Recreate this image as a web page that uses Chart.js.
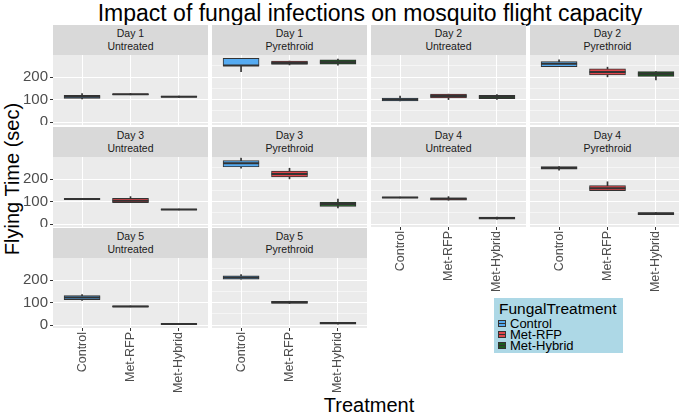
<!DOCTYPE html>
<html>
<head>
<meta charset="utf-8">
<script src="https://cdn.jsdelivr.net/npm/chart.js@4.4.0/dist/chart.umd.min.js"></script>
<style>
  body { margin: 0; background: #fff; font-family: 'Liberation Sans', Arial, sans-serif; }
  #wrap { position: relative; width: 679px; height: 416px; overflow: hidden; }
  #wrap canvas { position: absolute; }
  .strip { position: absolute; background: #d9d9d9; color: #1a1a1a; font-size: 10.5px; line-height: 13px; text-align: center; box-sizing: border-box; padding-top: 2px; }
  .title { position: absolute; color: #000; white-space: nowrap; }
  #legend { position: absolute; left: 494px; top: 298px; width: 129px; height: 55px; background: #add8e6; z-index: 5; }
  #legend .lt { position: absolute; left: 5px; top: 2px; font-size: 15.5px; line-height: 17px; }
  #legend .li { position: absolute; left: 16px; font-size: 13px; line-height: 11px; }
  #legend .key { position: absolute; left: 4px; width: 8px; height: 7px; border: 1px solid #333; box-sizing: border-box; }
  #legend .key::after { content: ''; position: absolute; left: 0; right: 0; top: 2px; height: 1px; background: #333; }
</style>
</head>
<body>
<div id="wrap">
  <div class="title" style="left:0;width:740px;top:2px;text-align:center;font-size:23px;line-height:23px;">Impact of fungal infections on mosquito flight capacity</div>
  <div class="title" style="left:0;width:738px;top:395px;text-align:center;font-size:20px;line-height:20px;">Treatment</div>
  <div class="title" style="left:-80px;top:169px;width:184px;text-align:center;font-size:20px;line-height:20px;transform:rotate(-90deg);">Flying Time (sec)</div>
  <div id="legend">
    <div class="lt">FungalTreatment</div>
  </div>
</div>
<script>
// categories and facets
const treatments = ['Control', 'Met-RFP', 'Met-Hybrid'];
const panelDays = ['Day 1', 'Day 1', 'Day 2', 'Day 2', 'Day 3', 'Day 3', 'Day 4', 'Day 4', 'Day 5', 'Day 5'];
const panelInsecticide = ['Untreated', 'Pyrethroid', 'Untreated', 'Pyrethroid', 'Untreated', 'Pyrethroid', 'Untreated', 'Pyrethroid', 'Untreated', 'Pyrethroid'];
const yTicks = [0, 50, 100, 150, 200, 250];

// box stats per treatment: [lower whisker, Q1, median, Q3, upper whisker]
const day1Untreated  = [[103, 105, 113, 119, 127], [121, 122, 124, 126, 127], [110, 111, 113, 115, 116]];
const day1Pyrethroid = [[224, 251, 251, 283, 283], [254, 256, 263, 271, 271], [253, 257, 266, 276, 280]];
const day2Untreated  = [[94, 94, 100, 107, 115], [100, 107, 116, 124, 124], [101, 104, 112, 119, 122]];
const day2Pyrethroid = [[246, 246, 259, 269, 276], [201, 209, 222, 236, 244], [187, 203, 215, 224, 224]];
const day3Untreated  = [[109, 109, 111, 113, 113], [95, 95, 104, 114, 122], [63, 63, 65, 67, 67]];
const day3Pyrethroid = [[248, 254, 270, 282, 293], [201, 209, 223, 235, 248], [72, 78, 89, 98, 111]];
const day4Untreated  = [[116, 116, 118, 120, 120], [106, 106, 112, 117, 122], [22, 22, 27, 31, 31]];
const day4Pyrethroid = [[240, 244, 249, 255, 255], [148, 148, 159, 171, 188], [42, 42, 47, 51, 51]];
const day5Untreated  = [[110, 113, 122, 131, 136], [81, 81, 83, 85, 85], [3, 3, 5, 7, 7]];
const day5Pyrethroid = [[204, 204, 211, 219, 224], [96, 96, 101, 106, 106], [4, 4, 9, 12, 12]];
const panelStats = [day1Untreated, day1Pyrethroid, day2Untreated, day2Pyrethroid, day3Untreated,
                    day3Pyrethroid, day4Untreated, day4Pyrethroid, day5Untreated, day5Pyrethroid];

const fills = ['#55abf2', '#df464b', '#1b5c1f'];
const outline = '#333333';

// layout
const colX = [53, 212, 371, 530];
const rowY = [25, 127, 228];
const STRIP = 30, PW = 155, PH = 70, YAXIS_W = 53, XAXIS_H = 75;

const wrap = document.getElementById('wrap');

// legend entries
treatments.forEach((t, k) => {
    const legend = document.getElementById('legend');
    const key = document.createElement('div');
    key.className = 'key';
    key.style.top = (22 + k * 11) + 'px';
    key.style.background = fills[k];
    legend.appendChild(key);
    const item = document.createElement('div');
    item.className = 'li';
    item.style.top = (20 + k * 11) + 'px';
    item.textContent = t;
    legend.appendChild(item);
});

const panelBg = {
    id: 'panelBg',
    beforeDraw(chart) {
        const a = chart.chartArea;
        chart.ctx.save();
        chart.ctx.fillStyle = '#ebebeb';
        chart.ctx.fillRect(a.left, a.top, a.right - a.left, a.bottom - a.top);
        chart.ctx.restore();
    }
};

function makePanel(i) {
    const col = i % 4, row = Math.floor(i / 4);
    const hasY = col === 0;
    const hasX = i >= 6;
    const stats = panelStats[i];

    const strip = document.createElement('div');
    strip.className = 'strip';
    strip.style.left = colX[col] + 'px';
    strip.style.top = rowY[row] + 'px';
    strip.style.width = PW + 'px';
    strip.style.height = STRIP + 'px';
    strip.innerHTML = panelDays[i] + '<br>' + panelInsecticide[i];
    wrap.appendChild(strip);

    const canvas = document.createElement('canvas');
    const left = hasY ? colX[col] - YAXIS_W : colX[col];
    const w = hasY ? PW + YAXIS_W : PW;
    const h = PH + (hasX ? XAXIS_H : 0);
    canvas.width = w;
    canvas.height = h;
    canvas.style.left = left + 'px';
    canvas.style.top = (rowY[row] + STRIP) + 'px';
    canvas.style.width = w + 'px';
    canvas.style.height = h + 'px';
    wrap.appendChild(canvas);

    new Chart(canvas, {
        type: 'bar',
        data: {
            datasets: [
                {
                    type: 'bar',
                    data: stats.map((s, k) => ({ x: k + 1, y: [s[0], s[4]] })),
                    backgroundColor: outline,
                    borderWidth: 0,
                    barThickness: 1,
                    grouped: false,
                    order: 3
                },
                {
                    type: 'bar',
                    data: stats.map((s, k) => ({ x: k + 1, y: [s[1], s[3]] })),
                    backgroundColor: fills,
                    borderColor: outline,
                    borderWidth: 1,
                    borderSkipped: false,
                    barThickness: 36,
                    grouped: false,
                    order: 2
                },
                {
                    type: 'scatter',
                    data: stats.map((s, k) => ({ x: k + 1, y: s[2] })),
                    pointStyle: 'line',
                    pointRadius: 18,
                    borderColor: outline,
                    borderWidth: 2,
                    order: 1
                }
            ]
        },
        options: {
            responsive: false,
            animation: false,
            events: [],
            devicePixelRatio: 1,
            layout: { padding: 0, autoPadding: false },
            plugins: { legend: { display: false }, tooltip: { enabled: false } },
            scales: {
                x: {
                    type: 'linear',
                    min: 0.4,
                    max: 3.6,
                    offset: false,
                    afterBuildTicks: axis => { axis.ticks = [1, 2, 3].map(v => ({ value: v })); },
                    afterFit: axis => {
                        axis.height = hasX ? XAXIS_H : 0;
                        axis.paddingLeft = 0; axis.paddingRight = 0;
                    },
                    border: { display: false },
                    grid: {
                        color: '#ffffff',
                        lineWidth: 1,
                        offset: false,
                        drawTicks: hasX,
                        tickLength: 3,
                        tickColor: outline
                    },
                    ticks: {
                        display: hasX,
                        autoSkip: false,
                        minRotation: 90,
                        maxRotation: 90,
                        padding: 1,
                        color: '#4d4d4d',
                        font: { family: "'Liberation Sans', Arial, sans-serif", size: 12.5 },
                        callback: v => treatments[v - 1]
                    }
                },
                y: {
                    min: -13,
                    max: 298,
                    afterBuildTicks: axis => { axis.ticks = yTicks.map(v => ({ value: v })); },
                    afterFit: axis => {
                        axis.width = hasY ? YAXIS_W : 0;
                        axis.paddingTop = 0; axis.paddingBottom = 0;
                    },
                    border: { display: false },
                    grid: {
                        color: '#ffffff',
                        lineWidth: ctx => (ctx.tick && ctx.tick.value % 100 === 0) ? 1 : 0.5,
                        drawTicks: hasY,
                        tickLength: 3,
                        tickColor: ctx => (ctx.tick && ctx.tick.value % 100 === 0) ? outline : 'rgba(0,0,0,0)'
                    },
                    ticks: {
                        display: hasY,
                        padding: 2,
                        color: '#4d4d4d',
                        font: { family: "'Liberation Sans', Arial, sans-serif", size: 15 },
                        callback: v => (v % 100 === 0 ? v : '')
                    }
                }
            }
        },
        plugins: [panelBg]
    });
}

for (let i = 0; i < panelStats.length; i++) makePanel(i);
</script>
</body>
</html>
